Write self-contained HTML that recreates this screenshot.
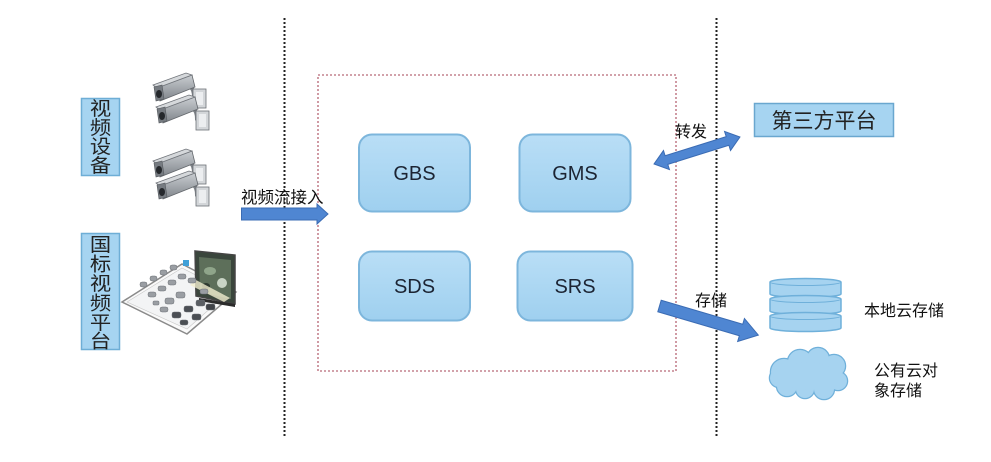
<!DOCTYPE html>
<html><head><meta charset="utf-8">
<style>
html,body{margin:0;padding:0;background:#fff;}
body{width:991px;height:457px;overflow:hidden;}
svg text{font-family:"Liberation Sans","Noto Sans CJK SC",sans-serif;}
</style></head>
<body>
<svg width="991" height="457" viewBox="0 0 991 457" xmlns="http://www.w3.org/2000/svg">
<defs>
<linearGradient id="bx" x1="0" y1="0" x2="0" y2="1">
<stop offset="0" stop-color="#b9def6"/><stop offset="1" stop-color="#9fd0ef"/>
</linearGradient>
<linearGradient id="cam" x1="0" y1="0" x2="0" y2="1">
<stop offset="0" stop-color="#c9cdd1"/><stop offset="1" stop-color="#7f848a"/>
</linearGradient>
<g id="camera">
<path d="M38,12 Q42,14 42,22 L46,24" fill="none" stroke="#7d8287" stroke-width="4"/>
<rect x="41" y="14" width="13" height="19" fill="#d3d6d9" stroke="#6d7176" stroke-width="0.8"/>
<rect x="44" y="17" width="7" height="13" fill="#eceef0"/>
<polygon points="4,13 40,0 43,12 8,26" fill="url(#cam)" stroke="#62666b" stroke-width="0.8"/>
<polygon points="1,10 34,-2 40,0 5,13" fill="#d5d8db" stroke="#70747a" stroke-width="0.8"/>
<polygon points="2,12 10,10 12,24 4,26" fill="#767b81" stroke="#55595e" stroke-width="0.6"/>
<ellipse cx="7" cy="19" rx="3" ry="4" fill="#25282c"/>
</g>
</defs>

<!-- dotted separators -->
<line x1="284.5" y1="18" x2="284.5" y2="437" stroke="#222" stroke-width="2" stroke-dasharray="2,2"/>
<line x1="716.5" y1="18" x2="716.5" y2="437" stroke="#222" stroke-width="2" stroke-dasharray="2,2"/>

<!-- red dotted box -->
<rect x="318" y="75" width="358" height="296" fill="none" stroke="#c4828e" stroke-width="1.6" stroke-dasharray="2,2"/>

<!-- left vertical label boxes -->
<rect x="81.5" y="98.5" width="38" height="77" fill="#a6d4f1" stroke="#6eaed6" stroke-width="1.5"/>
<g font-size="19" fill="#222" text-anchor="middle" transform="translate(100.5,0) scale(1.12,1)">
<text x="0" y="115">视</text>
<text x="0" y="134">频</text>
<text x="0" y="153">设</text>
<text x="0" y="172">备</text>
</g>

<rect x="81.5" y="233.5" width="38" height="116" fill="#a6d4f1" stroke="#6eaed6" stroke-width="1.5"/>
<g font-size="19" fill="#222" text-anchor="middle" transform="translate(100.5,0) scale(1.12,1)">
<text x="0" y="251">国</text>
<text x="0" y="270.5">标</text>
<text x="0" y="290">视</text>
<text x="0" y="309.5">频</text>
<text x="0" y="329">平</text>
<text x="0" y="347.5">台</text>
</g>

<!-- cameras -->
<use href="#camera" x="152" y="75"/>
<use href="#camera" x="155" y="97"/>
<use href="#camera" x="152" y="151"/>
<use href="#camera" x="155" y="173"/>

<!-- platform illustration -->
<polygon points="122,302 182,264 236,292 187,334" fill="#fafafa" stroke="#8a8a8a" stroke-width="1.5"/>
<polygon points="127,302 182,268 229,292 187,329" fill="#f3f4f5" stroke="#c8c8c8" stroke-width="0.6"/>
<polygon points="195,251 235,255 235,304 196,296" fill="#3a463c" stroke="#444" stroke-width="1.5"/>
<polygon points="199,257 231,260 231,299 200,292" fill="#5d6f5a"/>
<ellipse cx="210" cy="271" rx="6" ry="4" fill="#8fa58a"/>
<ellipse cx="222" cy="283" rx="5" ry="5" fill="#c9d4c5"/>
<ellipse cx="206" cy="286" rx="4" ry="3" fill="#2e3a30"/>
<polygon points="199,298 235,304 235,307 199,301" fill="#2b2b2b"/>
<polygon points="196,280 230,298 224,302 190,285" fill="#f3efcf" opacity="0.8"/>
<g fill="#9a9ea3" stroke="#6d7176" stroke-width="0.5">
<rect x="140" y="282" width="7" height="5" rx="2"/>
<rect x="150" y="276" width="7" height="5" rx="2"/>
<rect x="160" y="270" width="7" height="5" rx="2"/>
<rect x="170" y="265" width="7" height="5" rx="2"/>
<rect x="148" y="292" width="8" height="5" rx="2"/>
<rect x="158" y="286" width="8" height="5" rx="2"/>
<rect x="168" y="280" width="8" height="5" rx="2"/>
<rect x="178" y="274" width="8" height="5" rx="2"/>
<rect x="188" y="278" width="8" height="5" rx="2"/>
<rect x="165" y="298" width="9" height="6" rx="2"/>
<rect x="176" y="292" width="9" height="6" rx="2"/>
<rect x="160" y="307" width="8" height="5" rx="2"/>
<rect x="172" y="312" width="9" height="6" rx="2" fill="#4b4f54"/>
<rect x="184" y="306" width="9" height="6" rx="2" fill="#4b4f54"/>
<rect x="196" y="300" width="9" height="6" rx="2" fill="#5a5e63"/>
<rect x="180" y="320" width="8" height="5" rx="2" fill="#4b4f54"/>
<rect x="192" y="314" width="9" height="6" rx="2" fill="#4b4f54"/>
<rect x="206" y="304" width="9" height="6" rx="2" fill="#3f4247"/>
<rect x="200" y="289" width="8" height="5" rx="2"/>
<rect x="153" y="301" width="6" height="4" rx="1"/>
</g>
<rect x="183" y="260" width="6" height="6" fill="#3fa0d8"/>

<!-- 视频流接入 arrow -->
<text x="241" y="203" font-size="16.5" fill="#111">视频流接入</text>
<polygon points="241.5,208 317,208 317,204 328,214 317,224 317,220 241.5,220" fill="#4f86d2" stroke="#3b6cb4" stroke-width="1"/>

<!-- service boxes -->
<rect x="359" y="134.5" width="111" height="77" rx="13" fill="url(#bx)" stroke="#7db6dc" stroke-width="2"/>
<text x="414.5" y="180" font-size="20" fill="#1c2433" text-anchor="middle">GBS</text>
<rect x="519.5" y="134.5" width="111" height="77" rx="13" fill="url(#bx)" stroke="#7db6dc" stroke-width="2"/>
<text x="575" y="180" font-size="20" fill="#1c2433" text-anchor="middle">GMS</text>
<rect x="359" y="251.5" width="111" height="69" rx="13" fill="url(#bx)" stroke="#7db6dc" stroke-width="2"/>
<text x="414.5" y="293" font-size="20" fill="#1c2433" text-anchor="middle">SDS</text>
<rect x="517.5" y="251.5" width="115" height="69" rx="13" fill="url(#bx)" stroke="#7db6dc" stroke-width="2"/>
<text x="575" y="293" font-size="20" fill="#1c2433" text-anchor="middle">SRS</text>

<!-- 第三方平台 -->
<rect x="754.5" y="103.5" width="139" height="33" fill="#a6d4f1" stroke="#6aa7cf" stroke-width="1.5"/>
<text x="824" y="128" font-size="21" fill="#222" text-anchor="middle">第三方平台</text>

<!-- 转发 double arrow -->
<text x="675" y="137" font-size="16" fill="#111">转发</text>
<g transform="translate(697,150.5) rotate(-17.4)">
<polygon points="-45,0 -32,-10 -32,-4.5 32,-4.5 32,-10 45,0 32,10 32,4.5 -32,4.5 -32,10" fill="#4f86d2" stroke="#3b6cb4" stroke-width="1"/>
</g>

<!-- 存储 arrow -->
<text x="695" y="306" font-size="16" fill="#111">存储</text>
<g transform="translate(659.5,306) rotate(16.4)">
<polygon points="0,-6 85,-6 85,-12 103,0 85,12 85,6 0,6" fill="#4f86d2" stroke="#3b6cb4" stroke-width="1"/>
</g>

<!-- database stack -->
<g fill="#a6d3f0" stroke="#6fb0da" stroke-width="1.5">
<path d="M770,282 A35.5,3.5 0 0 1 841,282 L841,294 A35.5,3.5 0 0 1 770,294 Z"/>
<path d="M770,299 A35.5,3.5 0 0 1 841,299 L841,311 A35.5,3.5 0 0 1 770,311 Z"/>
<path d="M770,316 A35.5,3.5 0 0 1 841,316 L841,328 A35.5,3.5 0 0 1 770,328 Z"/>
</g>
<g fill="none" stroke="#6fb0da" stroke-width="1">
<path d="M770,282 A35.5,3.5 0 0 0 841,282"/>
<path d="M770,299 A35.5,3.5 0 0 0 841,299"/>
<path d="M770,316 A35.5,3.5 0 0 0 841,316"/>
</g>
<text x="864" y="316" font-size="16" fill="#111">本地云存储</text>

<!-- cloud -->
<g fill="#a6d3f0" stroke="#6fb0da" stroke-width="2.5">
<circle cx="784" cy="372" r="13"/>
<circle cx="800" cy="362" r="12"/>
<circle cx="818" cy="359" r="11"/>
<circle cx="834" cy="366" r="11"/>
<circle cx="838" cy="381" r="9"/>
<circle cx="824" cy="389" r="10"/>
<circle cx="805" cy="389" r="9"/>
<circle cx="787" cy="386" r="10"/>
<circle cx="779" cy="378" r="9"/>
</g>
<g fill="#a6d3f0">
<circle cx="784" cy="372" r="13"/>
<circle cx="800" cy="362" r="12"/>
<circle cx="818" cy="359" r="11"/>
<circle cx="834" cy="366" r="11"/>
<circle cx="838" cy="381" r="9"/>
<circle cx="824" cy="389" r="10"/>
<circle cx="805" cy="389" r="9"/>
<circle cx="787" cy="386" r="10"/>
<circle cx="779" cy="378" r="9"/>
<ellipse cx="808" cy="376" rx="28" ry="14"/>
</g>
<text x="874" y="376" font-size="16" fill="#111">公有云对</text>
<text x="874" y="396" font-size="16" fill="#111">象存储</text>
</svg>
</body></html>
